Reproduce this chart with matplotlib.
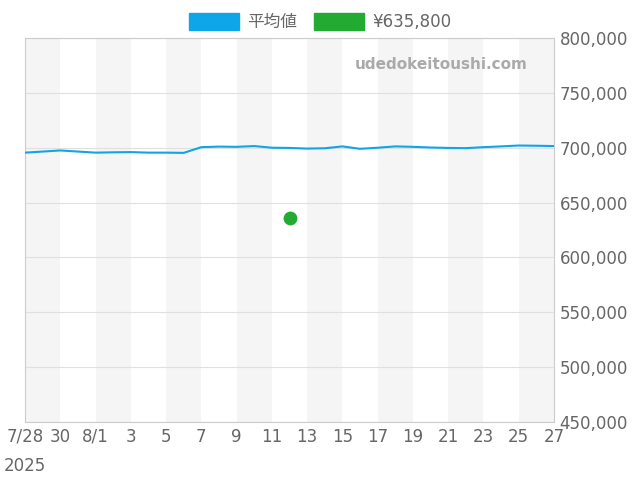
import matplotlib
matplotlib.use("Agg")
import matplotlib.pyplot as plt
from matplotlib.patches import Patch

plt.rcParams['font.family'] = ['DejaVu Sans', 'Noto Sans CJK JP']

tick_labels = ["7/28","30","8/1","3","5","7","9","11","13","15","17","19","21","23","25","27"]
year_label = "2025"
avg = [695500,696500,697500,696500,695500,695800,696000,695500,695500,695300,
       700500,701000,700800,701500,700000,699800,699200,699500,701200,699000,
       700000,701200,700800,700200,699800,699600,700500,701200,702000,701800,701500]
point_day = 15
point_val = 635800

fig = plt.figure(figsize=(6.4,4.8), dpi=100)
ax = fig.add_axes([25/640, 1-422/480, 529/640, 384/480])
days = list(range(len(avg)))
for s in range(0, 30, 4):
    ax.axvspan(s, s+2, color='#f5f5f5', zorder=0, lw=0)
ax.plot(days, avg, color='#0ea5e9', lw=1.5, zorder=3)
ax.scatter([point_day],[point_val], color='#22aa33', s=80, zorder=4)
ax.set_xlim(0, 30)
ax.set_ylim(450000, 800000)
ax.set_xticks(range(0, 31, 2))
ax.set_xticklabels(tick_labels)
ax.set_yticks(range(450000, 800001, 50000))
ax.yaxis.tick_right()
ax.yaxis.set_major_formatter(matplotlib.ticker.FuncFormatter(lambda v,p: f"{int(v):,}"))
ax.grid(axis='y', color='#e0e0e0', lw=0.8)
ax.set_axisbelow(True)
for sp in ax.spines.values():
    sp.set_color('#cccccc')
ax.tick_params(colors='#666666', labelsize=12, length=0, pad=4)
fig.text(4/640, 1-466/480, year_label, fontsize=12, color='#666666', ha='left', va='center')
ax.text(0.95, 0.93, "udedokeitoushi.com", transform=ax.transAxes, ha='right', va='center',
        fontsize=11, fontweight='bold', color='#aaaaaa')
handles = [Patch(color='#0ea5e9', label='平均値'), Patch(color='#22aa33', label='¥635,800')]
fig.legend(handles=handles, loc='upper center', bbox_to_anchor=(0.5, 1.005), ncol=2, frameon=False,
           fontsize=12, labelcolor='#666666', handlelength=3, handleheight=1.2, columnspacing=1,
           handletextpad=0.5)
fig.savefig("out.png")
